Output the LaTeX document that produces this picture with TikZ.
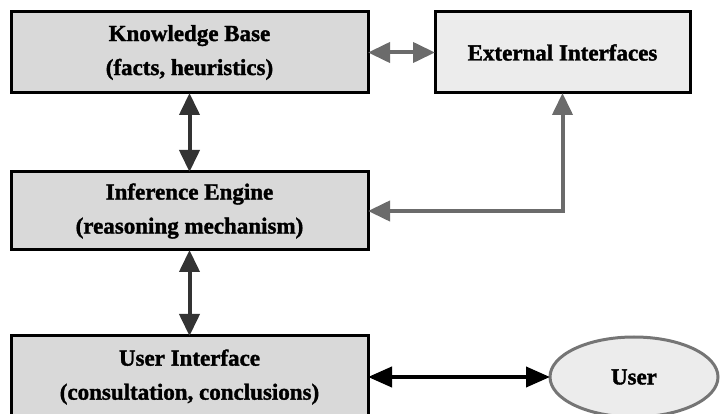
\documentclass[tikz,border=0pt]{standalone}
\usepackage{fontspec}
\setmainfont{Liberation Serif}[BoldFeatures={FakeBold=1.5}]
\usepackage{tikz}
\usetikzlibrary{shapes.geometric, arrows.meta}
\definecolor{boxgray}{HTML}{D9D9D9}
\definecolor{lightbox}{HTML}{ECECEC}
\definecolor{darkline}{HTML}{333333}
\definecolor{midline}{HTML}{6B6B6B}
\definecolor{rimgray}{HTML}{757575}
\tikzstyle{block} = [rectangle, minimum width=357pt, minimum height=81pt, inner sep=0pt, outer sep=0pt, align=center, draw=black, line width=3pt, fill=boxgray, font=\bfseries\fontsize{23}{34}\selectfont]
\tikzstyle{extbox} = [block, minimum width=255pt, fill=lightbox]
\tikzstyle{person} = [ellipse, minimum width=168pt, minimum height=80pt, inner sep=0pt, outer sep=0pt, draw=rimgray, line width=3pt, fill=lightbox, font=\bfseries\fontsize{23}{34}\selectfont]
\tikzstyle{darkarrow} = [line width=4pt, darkline, {Triangle[length=22pt,width=20pt]}-{Triangle[length=22pt,width=20pt]}]
\tikzstyle{grayarrow} = [line width=4pt, midline, {Triangle[length=22pt,width=20pt]}-{Triangle[length=22pt,width=20pt]}]
\tikzstyle{blackarrow} = [line width=4pt, black, {Triangle[length=24pt,width=20pt]}-{Triangle[length=24pt,width=20pt]}]

\begin{document}
\begin{tikzpicture}[x=1pt, y=1pt, node distance=158.5pt]
			\useasboundingbox (0,0) rectangle (721,-414);
			\node (kb) [block] at (189.5,-52.5) {Knowledge Base\\(facts, heuristics)};
			\node (ie) [block, below of=kb, minimum height=78pt] {Inference Engine\\(reasoning mechanism)};
			\node (ui) [block, below of=ie, yshift=-7.5pt, minimum height=82pt] {User Interface\\(consultation, conclusions)};
			\node (ei) [extbox, right of=kb, xshift=214.5pt] {External Interfaces};
			\node (user) [person, right of=ui, xshift=286pt] {User};

			\draw [grayarrow] (kb) -- (ei);
			\draw [darkarrow] (kb) -- (ie);
			\draw [darkarrow] (ie) -- (ui);
			\draw [grayarrow] (ie.east) -| (ei.south);
			\draw [blackarrow] (ui) -- (user);
		\end{tikzpicture}
\end{document}
